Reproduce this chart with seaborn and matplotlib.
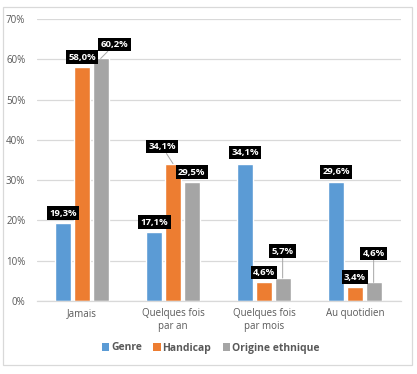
import matplotlib
matplotlib.use("Agg")
import matplotlib.pyplot as plt
import seaborn as sns
import pandas as pd
from matplotlib.patches import Rectangle, Patch

categories = ["Jamais", "Quelques fois\npar an", "Quelques fois\npar mois", "Au quotidien"]
series = ["Genre", "Handicap", "Origine ethnique"]
genre = [19.3, 17.1, 34.1, 29.6]
handicap = [58.0, 34.1, 4.6, 3.4]
origine = [60.2, 29.5, 5.7, 4.6]
yticks = [0, 10, 20, 30, 40, 50, 60, 70]
colors = ["#5B9BD5", "#ED7D31", "#A5A5A5"]

rows = []
for s, vals in zip(series, [genre, handicap, origine]):
    for c, v in zip(categories, vals):
        rows.append({"cat": c, "serie": s, "val": v})
df = pd.DataFrame(rows)

sns.set_theme(style="white")
plt.rcParams["font.family"] = ["Open Sans", "DejaVu Sans"]

fig = plt.figure(figsize=(4.17, 3.74), dpi=100)
ax = fig.add_axes([36.5 / 417, 1 - 301 / 374, 364 / 417, 282 / 374])

sns.barplot(data=df, x="cat", y="val", hue="serie", order=categories,
            hue_order=series, palette=colors, width=0.615, gap=0.14,
            saturation=1, legend=False, ax=ax)

ax.set_ylim(0, 70)
ax.set_xlim(-0.5, 3.5)
ax.set_yticks(yticks)
ax.set_yticklabels([f"{t}%" for t in yticks])
ax.set_xlabel("")
ax.set_ylabel("")
ax.grid(axis="y", color="#D9D9D9", linewidth=0.9)
ax.set_axisbelow(True)
for s in ["top", "right", "left"]:
    ax.spines[s].set_visible(False)
ax.spines["bottom"].set_color("#D9D9D9")
ax.spines["bottom"].set_linewidth(0.9)
ax.tick_params(axis="both", length=0, colors="#595959", labelsize=7)
ax.tick_params(axis="y", pad=8)
ax.tick_params(axis="x", pad=5)

# label offsets (pixels) per series / category
offsets = {
    0: [(0, 10), (0, 10), (0, 11), (0, 10)],
    1: [(0, 10), (-11, 17), (0, 10), (0, 10)],
    2: [(14, 14), (0, 10), (0, 27), (0, 29)],
}
for si, cont in enumerate(ax.containers):
    for ci, bar in enumerate(cont):
        v = bar.get_height()
        x = bar.get_x() + bar.get_width() / 2
        dx, dy = offsets[si][ci]
        lbl = f"{v:.1f}%".replace(".", ",")
        arrow = None
        if dy > 12:
            arrow = dict(arrowstyle="-", color="#A6A6A6", lw=0.7,
                         shrinkA=0, shrinkB=0)
        ax.annotate(lbl, xy=(x, v), xytext=(dx, dy), textcoords="offset pixels",
                    ha="center", va="center", color="white", fontsize=6.8,
                    fontweight="bold", annotation_clip=False,
                    bbox=dict(boxstyle="square,pad=0.25", fc="black", ec="none"),
                    arrowprops=arrow)

handles = [Patch(facecolor=c, edgecolor="none") for c in colors]
leg = fig.legend(handles, series, loc="center", bbox_to_anchor=(0.505, 1 - 348 / 374),
                 ncol=3, frameon=False, handlelength=0.7, handleheight=0.7,
                 handletextpad=0.2, columnspacing=1.1,
                 prop={"size": 7.5, "weight": "bold"})
for t in leg.get_texts():
    t.set_color("#595959")

fig.patches.append(Rectangle((3 / 417, 1 - 365 / 374), 409 / 417, 358 / 374,
                             transform=fig.transFigure, fill=False,
                             edgecolor="#D9D9D9", linewidth=0.9))

fig.savefig("out.png", dpi=100)
